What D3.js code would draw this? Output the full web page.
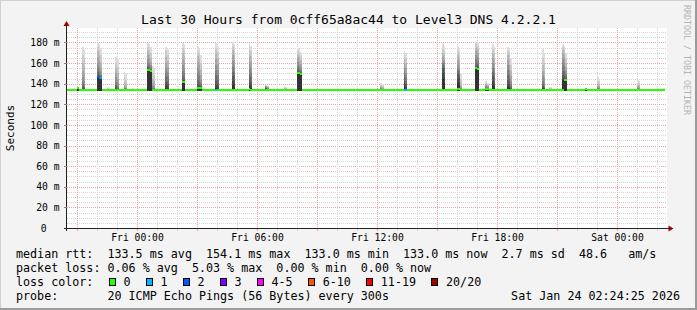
<!DOCTYPE html>
<html><head><meta charset="utf-8">
<script src="https://cdn.jsdelivr.net/npm/d3@7"></script>
<style>
body{margin:0;background:#fff}
svg{display:block}
text{font-family:"DejaVu Sans Mono",monospace;white-space:pre}
</style>
</head><body>
<svg id="chart" width="697" height="310"></svg>
<script>
// ---------------- DATA ----------------
const title = "Last 30 Hours from 0cff65a8ac44 to Level3 DNS 4.2.2.1";
const yAxisTitle = "Seconds";
const credit = "RRDTOOL / TOBI OETIKER";
const startTime = "2026-01-22 20:30";
const endTime = "2026-01-24 02:30";
const lastSampleTime = "2026-01-24 02:20";
const stepMinutes = 5;
const baselineMedian = 133.2;
const baselineSmokeLow = 133.0;
const yMax = 194;

const yTickValues = [0, 20, 40, 60, 80, 100, 120, 140, 160, 180];
const yTickLabels = ["0", "20 m", "40 m", "60 m", "80 m", "100 m", "120 m", "140 m", "160 m", "180 m"];
const xTickTimes = ["2026-01-23 00:00", "2026-01-23 06:00", "2026-01-23 12:00", "2026-01-23 18:00", "2026-01-24 00:00"];
const xTickLabels = ["Fri 00:00", "Fri 06:00", "Fri 12:00", "Fri 18:00", "Sat 00:00"];

// samples that differ from the flat baseline (5-minute samples)
const spikeTimes = [
  "2026-01-22 21:00",
  "2026-01-22 21:15", "2026-01-22 21:20",
  "2026-01-22 22:00", "2026-01-22 22:05", "2026-01-22 22:10",
  "2026-01-22 22:30", "2026-01-22 22:35",
  "2026-01-22 22:55", "2026-01-22 23:00",
  "2026-01-22 23:20", "2026-01-22 23:25",
  "2026-01-22 23:45",
  "2026-01-23 00:30", "2026-01-23 00:35", "2026-01-23 00:40",
  "2026-01-23 00:45", "2026-01-23 00:50",
  "2026-01-23 01:25", "2026-01-23 01:30",
  "2026-01-23 02:15", "2026-01-23 02:20",
  "2026-01-23 03:00", "2026-01-23 03:05", "2026-01-23 03:10",
  "2026-01-23 03:55", "2026-01-23 04:00",
  "2026-01-23 04:45", "2026-01-23 04:50",
  "2026-01-23 05:35", "2026-01-23 05:40",
  "2026-01-23 06:25", "2026-01-23 06:30",
  "2026-01-23 07:20", "2026-01-23 07:25",
  "2026-01-23 08:00", "2026-01-23 08:05", "2026-01-23 08:10",
  "2026-01-23 12:10", "2026-01-23 12:15",
  "2026-01-23 13:20", "2026-01-23 13:25",
  "2026-01-23 15:15", "2026-01-23 15:20",
  "2026-01-23 16:00", "2026-01-23 16:05", "2026-01-23 16:10",
  "2026-01-23 16:55", "2026-01-23 17:00",
  "2026-01-23 17:25", "2026-01-23 17:30",
  "2026-01-23 17:45", "2026-01-23 17:50",
  "2026-01-23 18:30", "2026-01-23 18:35", "2026-01-23 18:40",
  "2026-01-23 20:15", "2026-01-23 20:20",
  "2026-01-23 20:35", "2026-01-23 20:40",
  "2026-01-23 21:15", "2026-01-23 21:20", "2026-01-23 21:25",
  "2026-01-23 22:25",
  "2026-01-23 23:00", "2026-01-23 23:05",
  "2026-01-24 01:00", "2026-01-24 01:05",
  "2026-01-24 02:15", "2026-01-24 02:20"
];
const spikeMedians = [
  135.5,
  133.3, 133.2,
  146, 145.5, 145,
  133.4, 133.3,
  133.3, 133.2,
  133.2, 133.2,
  133.2,
  152.5, 152.5, 152,
  133.3, 133.2,
  133.3, 133.2,
  141.8, 141.5,
  135.5, 135.3, 135.2,
  133.2, 133.2,
  133.3, 133.2,
  134.5, 133.3,
  133.4, 133.3,
  133.2, 133.2,
  150.5, 150.5, 149,
  133.2, 133.2,
  133.2, 133.2,
  133.4, 133.3,
  134.5, 134.5, 133.3,
  154.5, 154,
  134.8, 134.5,
  133.3, 133.3,
  133.3, 133.3, 133.2,
  133.2, 133.2,
  133.2, 133.2,
  133.3, 143.5, 143.5,
  134.8,
  133.2, 133.2,
  133.2, 133.2,
  133.2, 133.2
];
const spikeLoss = [
  0,
  0, 0,
  2, 2, 1,
  0, 0,
  0, 0,
  0, 0,
  0,
  0, 0, 0,
  0, 0,
  0, 0,
  0, 0,
  0, 0, 0,
  1, 0,
  0, 0,
  0, 0,
  0, 0,
  0, 0,
  0, 0, 0,
  0, 0,
  1, 1,
  0, 0,
  0, 0, 0,
  0, 0,
  0, 0,
  0, 0,
  0, 0, 0,
  0, 0,
  0, 0,
  0, 0, 0,
  0,
  0, 0,
  0, 0,
  0, 0
];
// the ten highest pings of each sample, highest first
const spikeSmoke = [
  [136.5,136.2,136,135.9,135.8,135.7,135.6,135.5,135.4,135.3],
  [176,168,160,152,146,142,139,137,135,134],
  [174,165,156,149,143,139,137,135.5,134.5,133.8],
  [179,176,172,166,160,155,151,148,147,146.5],
  [178,173,168,162,157,152,149,147,146,145.8],
  [175,168,161,155,151,148,147,146,145.5,145.2],
  [136.5,135.5,135,134.5,134.2,134,133.8,133.6,133.5,133.4],
  [136,135.3,134.8,134.4,134.1,133.9,133.7,133.5,133.4,133.3],
  [166,160,155,150,146,142,139,137,135,134],
  [164,156,150,145,141,138,136,135,134,133.6],
  [151,146,142,139,137,135.5,134.5,134,133.6,133.4],
  [150,144,140,137,135.5,134.5,134,133.6,133.4,133.3],
  [136,135.3,134.8,134.4,134.1,133.9,133.7,133.5,133.4,133.3],
  [179,176,172,168,164,160,157,155,153.5,153],
  [178,174,170,165,161,158,156,154,153,152.8],
  [176,170,165,161,158,156,154,153,152.5,152.2],
  [157,150,145,141,138,136,135,134,133.6,133.4],
  [155,148,143,139,137,135.5,134.5,134,133.6,133.4],
  [176,172,166,160,155,150,146,142,139,136],
  [174,168,162,156,151,147,143,140,137,135],
  [179,175,170,164,158,152,147,144,142.5,142.2],
  [178,173,167,161,155,150,146,143.5,142,141.8],
  [176,172,167,161,155,149,144,140,137,136],
  [175,170,164,158,152,147,143,139,137,135.8],
  [168,160,154,148,144,141,139,137.5,136.5,135.5],
  [179,175,170,164,158,152,147,143,139,136],
  [176,171,165,159,153,148,144,140,137,135],
  [180,177,173,168,162,156,151,147,143,139],
  [178,174,169,163,157,152,148,144,140,137],
  [179,176,172,166,160,154,149,145,141,138],
  [177,172,167,161,155,150,146,142,139,136],
  [139,138.5,138,137.5,137,136.5,136,135.5,135,134.5],
  [138,137.3,136.8,136.3,135.8,135.3,134.9,134.5,134.2,133.9],
  [137.5,136.5,135.8,135.2,134.7,134.3,134,133.7,133.5,133.4],
  [137,136.2,135.6,135,134.6,134.2,133.9,133.7,133.5,133.4],
  [175,172,168,165,161,157,154,152,151,150.8],
  [174,170,166,162,158,155,153,151.5,151,150.7],
  [171,167,163,159,156,153,151,150,149.5,149.2],
  [141,139,137.5,136.3,135.5,134.8,134.3,134,133.7,133.5],
  [140,138,136.8,135.8,135,134.5,134.1,133.8,133.6,133.4],
  [172,168,164,160,156,152,148,145,141,138],
  [170,165,160,155,150,146,143,140,137,135],
  [179,174,170,166,162,160,158,155,150,145],
  [177,172,168,164,161,158,155,151,146,141],
  [176,172,168,163,158,154,152,149,145,141],
  [175,170,165,160,155,152,149,146,142,139],
  [150,145,141,138,136,135,134.5,134,133.8,133.5],
  [180,178,175,172,168,164,160,157,155.5,155],
  [179,177,174,170,166,162,159,157,155,154.5],
  [142.5,141,140,139,138,137,136,135.5,135.2,135],
  [141,140,139,138,137,136,135.5,135,134.8,134.6],
  [178,174,170,165,160,155,151,147,143,139],
  [176,170,165,159,154,150,146,142,139,136],
  [176,172,168,163,158,153,148,144,140,137],
  [175,170,164,158,153,149,145,141,138,136],
  [165,158,152,147,143,140,138,136,135,134],
  [174,165,158,152,147,143,140,138,136,134.5],
  [170,160,152,146,142,139,137,135.5,134.5,134],
  [137,136,135.5,135,134.6,134.3,134,133.8,133.6,133.4],
  [136.5,135.8,135.3,134.9,134.5,134.2,133.9,133.7,133.5,133.4],
  [178,176,173,169,164,158,152,148,145,144],
  [177,174,170,166,161,156,151,147,145,144.3],
  [170,165,160,156,152,149,147,145.5,144.8,144.2],
  [135.5,135.2,135,134.9,134.8,134.7,134.6,134.5,134.4,134.3],
  [146,143,140,138,136.5,135.5,134.8,134.3,133.9,133.6],
  [145,142,139.5,137.5,136,135.2,134.6,134.1,133.8,133.5],
  [143.5,141,139,137.5,136,135,134.5,134,133.7,133.5],
  [142.5,140.5,138.5,137,135.8,134.9,134.3,133.9,133.6,133.4],
  [136,135.3,134.8,134.4,134.1,133.9,133.7,133.5,133.4,133.3],
  [135.8,135.2,134.7,134.3,134,133.8,133.6,133.5,133.4,133.3]
];

// legend
const legendRows = [
  "median rtt:  133.5 ms avg  154.1 ms max  133.0 ms min  133.0 ms now  2.7 ms sd  48.6   am/s",
  "packet loss: 0.06 % avg  5.03 % max  0.00 % min  0.00 % now"
];
const lossColorTitle = "loss color:";
const lossLabels = ["0", "1", "2", "3", "4-5", "6-10", "11-19", "20/20"];
const lossColors = ["#26ff00", "#00b8ff", "#0059ff", "#7e00ff", "#ff00ff", "#ff5500", "#ff0000", "#a10000"];
const lossUpper = [0, 1, 2, 3, 5, 10, 19, 20];
const probeRow = "probe:       20 ICMP Echo Pings (56 Bytes) every 300s";
const stampText = "Sat Jan 24 02:24:25 2026";

// ---------------- DRAW ----------------
const W = 697, H = 310;
const svg = d3.select("#chart");
const parse = d3.timeParse("%Y-%m-%d %H:%M");
const t0 = parse(startTime), t1 = parse(endTime), tLast = parse(lastSampleTime);

const plotL = 67, plotR = 667, plotT = 28, plotB = 228;
const x = d3.scaleTime().domain([t0, t1]).range([plotL, plotR]);
const y = d3.scaleLinear().domain([0, yMax]).range([plotB, plotT]);

// background + 3D border
svg.append("rect").attr("width", W).attr("height", H).attr("fill", "#f3f3f3");
svg.append("rect").attr("x", 0).attr("y", 0).attr("width", W).attr("height", 1).attr("fill", "#d0d0d0");
svg.append("rect").attr("x", 0).attr("y", 0).attr("width", 1).attr("height", H).attr("fill", "#d0d0d0");
svg.append("rect").attr("x", 0).attr("y", H - 2).attr("width", W).attr("height", 2).attr("fill", "#9a9a9a");
svg.append("rect").attr("x", W - 2).attr("y", 0).attr("width", 2).attr("height", H).attr("fill", "#9a9a9a");

// canvas
svg.append("rect").attr("x", plotL).attr("y", plotT).attr("width", plotR - plotL).attr("height", plotB - plotT).attr("fill", "#ffffff");

const px = v => Math.round(v) + 0.5;
const grid = svg.append("g").attr("shape-rendering", "crispEdges");
// horizontal grid
for (const v of d3.range(5, yMax, 5)) {
  const major = v % 20 === 0;
  grid.append("line").attr("x1", plotL).attr("x2", plotR).attr("y1", px(y(v))).attr("y2", px(y(v)))
    .attr("stroke", major ? "#eba3a3" : "#d4d4d4").attr("stroke-dasharray", "1,1");
}
// vertical grid
for (const t of d3.timeHour.every(1).range(t0, t1)) {
  if (+t === +t0) continue;
  const major = t.getHours() % 3 === 0;
  grid.append("line").attr("y1", plotT).attr("y2", plotB).attr("x1", px(x(t))).attr("x2", px(x(t)))
    .attr("stroke", major ? "#eba3a3" : "#d4d4d4").attr("stroke-dasharray", "1,1");
  grid.append("line").attr("y1", plotB).attr("y2", plotB + 3).attr("x1", px(x(t))).attr("x2", px(x(t)))
    .attr("stroke", major ? "#eba3a3" : "#d4d4d4");
}

// build sample table
const spikeMap = new Map(spikeTimes.map((s, i) => [+parse(s), i]));
const samples = d3.timeMinute.every(stepMinutes).range(t0, d3.timeMinute.offset(tLast, 1)).map(t => {
  const i = spikeMap.get(+t);
  return i === undefined
    ? { t, median: baselineMedian, loss: 0, smoke: null }
    : { t, median: spikeMedians[i], loss: spikeLoss[i], smoke: spikeSmoke[i] };
});
const t2x = t => x(t);
const next = t => d3.timeMinute.offset(t, stepMinutes);

// smoke: lightest (outermost) band first, darker bands stacked over it
const smokeShades = d3.range(10).map(k => {
  const c = Math.floor(190 / 10 * (10 - (k + 1))) + 50;
  return d3.rgb(c, c, c).toString();
});
const smokeG = svg.append("g").attr("shape-rendering", "crispEdges");
samples.filter(d => d.smoke).forEach(d => {
  d.smoke.forEach((top, k) => {
    smokeG.append("rect")
      .attr("x", t2x(d.t)).attr("width", t2x(next(d.t)) - t2x(d.t))
      .attr("y", y(top)).attr("height", y(baselineSmokeLow) - y(top))
      .attr("fill", smokeShades[k]);
  });
});

// median coloured by loss
const lossColor = l => lossColors[lossUpper.findIndex(u => l <= u)];
svg.append("g").attr("shape-rendering", "crispEdges").selectAll("rect").data(samples).join("rect")
  .attr("x", d => t2x(d.t)).attr("width", d => t2x(next(d.t)) - t2x(d.t))
  .attr("y", d => y(d.median) - 1.3).attr("height", 2)
  .attr("fill", d => lossColor(d.loss));

// axes
const axisColor = "#222";
svg.append("line").attr("x1", plotL - 3).attr("x2", plotR + 2).attr("y1", plotB + 0.5).attr("y2", plotB + 0.5).attr("stroke", axisColor);
svg.append("line").attr("x1", plotL - 0.5).attr("x2", plotL - 0.5).attr("y1", plotB + 3).attr("y2", plotT - 3).attr("stroke", axisColor);
svg.append("path").attr("d", `M${plotL - 3.5},${plotT - 2} L${plotL + 2.5},${plotT - 2} L${plotL - 0.5},${plotT - 7} Z`).attr("fill", "#a00000");
svg.append("path").attr("d", `M${plotR + 1.5},${plotB - 2.5} L${plotR + 1.5},${plotB + 3.5} L${plotR + 6.5},${plotB + 0.5} Z`).attr("fill", "#a00000");

// y ticks + labels
yTickValues.forEach((v, i) => {
  if (v > 0) svg.append("line").attr("x1", plotL - 3).attr("x2", plotL).attr("y1", px(y(v))).attr("y2", px(y(v))).attr("stroke", "#888").attr("shape-rendering", "crispEdges");
  svg.append("text").attr("x", v === 0 ? 46.5 : 59.5).attr("y", y(v) + 3.6)
    .attr("text-anchor", "end").attr("font-size", "9.7px").attr("fill", "#000").text(yTickLabels[i]);
});
// x labels
xTickTimes.forEach((s, i) => {
  svg.append("text").attr("x", x(parse(s)) + 0.5).attr("y", 241)
    .attr("text-anchor", "middle").attr("font-size", "9.7px").attr("fill", "#000").text(xTickLabels[i]);
});

// titles
svg.append("text").attr("x", W / 2).attr("y", 24).attr("text-anchor", "middle").attr("font-size", "13px").attr("fill", "#000").text(title);
svg.append("text").attr("transform", `translate(14,${(plotT + plotB) / 2}) rotate(-90)`).attr("text-anchor", "middle")
  .attr("font-size", "11px").attr("fill", "#000").text(yAxisTitle);
svg.append("text").attr("transform", "translate(683.5,5) rotate(90)").attr("font-size", "8.3px").attr("fill", "#b4b4b4").text(credit);

// legend
const lf = "11.7px", cw = 7.04, lx = 16;
const rowY = [258, 272, 286, 300];
legendRows.forEach((r, i) => svg.append("text").attr("x", lx).attr("y", rowY[i]).attr("font-size", lf).attr("fill", "#000").text(r));
svg.append("text").attr("x", lx).attr("y", rowY[2]).attr("font-size", lf).attr("fill", "#000").text(lossColorTitle);
let cx = 108.7;
lossLabels.forEach((lab, i) => {
  svg.append("rect").attr("x", Math.round(cx) + 0.5).attr("y", 278.5).attr("width", 6).attr("height", 7)
    .attr("fill", lossColors[i]).attr("stroke", "#000").attr("shape-rendering", "crispEdges");
  svg.append("text").attr("x", cx + 14.7).attr("y", rowY[2]).attr("font-size", lf).attr("fill", "#000").text(lab);
  cx += 14.7 + lab.length * cw + 15.3;
});
svg.append("text").attr("x", lx).attr("y", rowY[3]).attr("font-size", lf).attr("fill", "#000").text(probeRow);
svg.append("text").attr("x", 680).attr("y", rowY[3]).attr("text-anchor", "end").attr("font-size", lf).attr("fill", "#000").text(stampText);
</script>
</body></html>
